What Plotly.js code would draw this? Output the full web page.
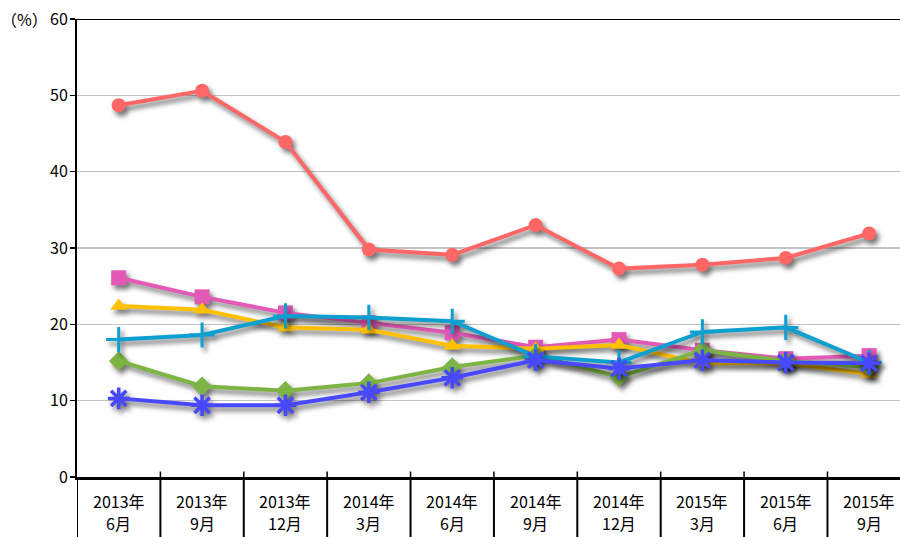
<!DOCTYPE html>
<html><head><meta charset="utf-8">
<script src="https://cdn.plot.ly/plotly-3.0.1.min.js"></script>
<style>
html,body{margin:0;padding:0;overflow:hidden;background:#fff;}
#chart{width:900px;height:537px;}
.scatterlayer .trace{filter:drop-shadow(3px 4px 2.5px rgba(0,0,0,0.55));}
</style></head>
<body><div id="chart"></div>
<script>
const yearLabels  = ["2013年","2013年","2013年","2014年","2014年","2014年","2014年","2015年","2015年","2015年"];
const monthLabels = ["6月","9月","12月","3月","6月","9月","12月","3月","6月","9月"];
const seriesRed    = [48.7, 50.6, 43.9, 29.8, 29.1, 33.0, 27.3, 27.8, 28.7, 31.9];
const seriesPink   = [26.1, 23.6, 21.5, 20.2, 18.9, 17.0, 18.0, 16.6, 15.5, 15.9];
const seriesYellow = [22.4, 21.9, 19.6, 19.3, 17.2, 16.8, 17.3, 14.9, 14.9, 13.5];
const seriesGreen  = [15.2, 11.9, 11.3, 12.3, 14.4, 15.9, 13.1, 16.6, 15.2, 14.4];
const seriesCyan   = [18.0, 18.6, 21.1, 20.9, 20.4, 15.8, 15.0, 19.0, 19.6, 15.0];
const seriesBlue   = [10.3, 9.4, 9.4, 11.1, 13.0, 15.3, 14.2, 15.3, 15.0, 14.9];
const yTickVals = [0,10,20,30,40,50,60];
const yTickText = ["0","10","20","30","40","50","60"];
const unitLabel = "（%）";

const FONT = '"Noto Sans CJK JP", "DejaVu Sans", sans-serif';
const x = yearLabels.map((c,i)=>i);
function tr(y,color,symbol,size,extra){
  const m = Object.assign({symbol:symbol,size:size,color:color}, extra||{});
  return {type:'scatter',mode:'lines+markers',x:x,y:y,line:{color:color,width:4},marker:m,hoverinfo:'skip'};
}
const data = [
  tr(seriesRed,'#FF6666','circle',14),
  tr(seriesPink,'#E25AB6','square',15),
  tr(seriesYellow,'#FFC000','triangle-up',15),
  tr(seriesGreen,'#7CB544','diamond',15),
  tr(seriesCyan,'#0C9FD0','cross-thin-open',18,{line:{color:'#0C9FD0',width:3}}),
  tr(seriesBlue,'#4848FF','asterisk-open',18,{line:{color:'#4848FF',width:3.5}})
];
const shapes = [];
for(let i=0;i<=9;i++){
  shapes.push({type:'line',xref:'x',yref:'paper',x0:i-0.5,x1:i-0.5,y0:0,y1:-0.135,line:{color:'#000',width:2}});
}
for(let i=1;i<=9;i++){
  shapes.push({type:'line',xref:'x',yref:'paper',x0:i-0.5,x1:i-0.5,y0:0,y1:0.012,line:{color:'#000',width:1.5}});
}
shapes.push({type:'line',xref:'paper',yref:'y',x0:0,x1:1,y0:60,y1:60,line:{color:'#000',width:2}});
const annotations = [];
x.forEach(i=>{
  annotations.push({xref:'x',yref:'paper',x:i,y:-0.0524,text:yearLabels[i],showarrow:false,xanchor:'center',yanchor:'middle',font:{family:FONT,size:16,color:'#000'}});
  annotations.push({xref:'x',yref:'paper',x:i,y:-0.1004,text:monthLabels[i],showarrow:false,xanchor:'center',yanchor:'middle',font:{family:FONT,size:16,color:'#000'}});
});
annotations.push({xref:'paper',yref:'y',x:-0.0935,y:60,text:unitLabel,showarrow:false,xanchor:'left',yanchor:'middle',borderpad:0,font:{family:FONT,size:16,color:'#000'}});
const layout = {
  width:900,height:537,
  margin:{l:77,r:0,t:19,b:60},
  paper_bgcolor:'#fff',plot_bgcolor:'#fff',
  showlegend:false,
  font:{family:FONT,color:'#000'},
  xaxis:{
    type:'linear',range:[-0.5,9.37],
    showticklabels:false,
    showgrid:false,zeroline:false,
    showline:true,linecolor:'#000',linewidth:3,
    ticks:'',
    fixedrange:true
  },
  yaxis:{
    range:[0,60],
    tickmode:'array',tickvals:yTickVals,ticktext:yTickText,
    showgrid:true,gridcolor:'#C4C4C4',gridwidth:1.5,
    zeroline:false,
    showline:true,linecolor:'#000',linewidth:2,
    ticks:'outside',ticklen:5,tickcolor:'#000',tickwidth:1.5,
    tickfont:{size:16,color:'#000'},
    ticklabelstandoff:-1,
    fixedrange:true
  },
  shapes:shapes,
  annotations:annotations
};
Plotly.newPlot('chart',data,layout,{staticPlot:true});
</script></body></html>
